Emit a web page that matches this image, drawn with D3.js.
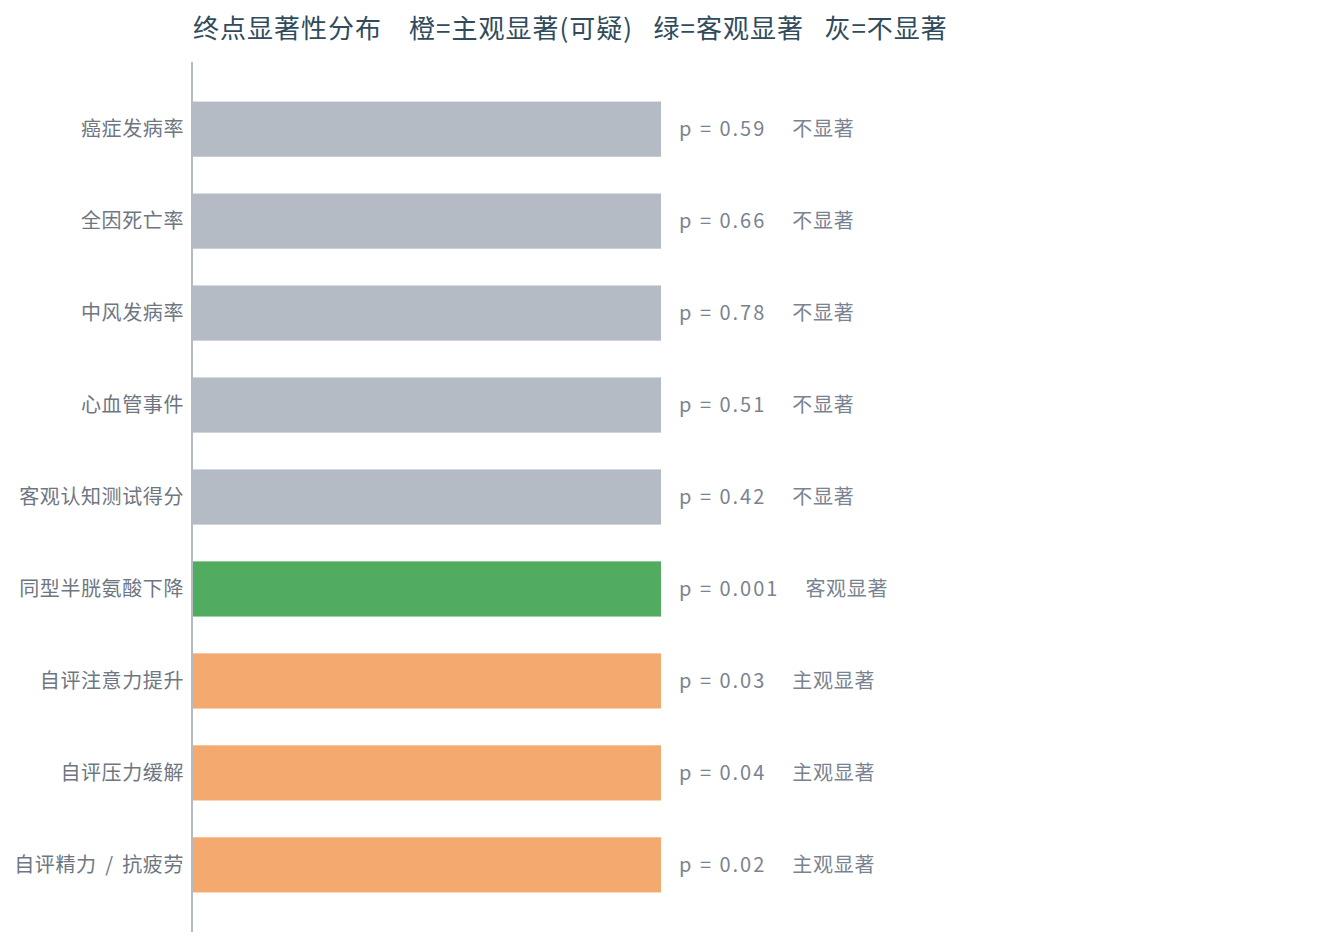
<!DOCTYPE html>
<html><head><meta charset="utf-8">
<script src="https://cdn.jsdelivr.net/npm/d3@7"></script>
<style>
html,body{margin:0;padding:0;background:#fff;}
text{font-family:"Noto Sans CJK SC","Noto Sans",sans-serif;}
</style></head>
<body><svg id="chart" width="1331" height="948"></svg>
<script>
const titleText = "终点显著性分布　橙=主观显著(可疑)   绿=客观显著   灰=不显著";
const categories = ["癌症发病率","全因死亡率","中风发病率","心血管事件","客观认知测试得分","同型半胱氨酸下降","自评注意力提升","自评压力缓解","自评精力 / 抗疲劳"];
const barValues = [1,1,1,1,1,1,1,1,1];
const pValues = ["0.59","0.66","0.78","0.51","0.42","0.001","0.03","0.04","0.02"];
const statusLabels = ["不显著","不显著","不显著","不显著","不显著","客观显著","主观显著","主观显著","主观显著"];
const statusColors = {"不显著":"#b4bbc4","客观显著":"#52ac5f","主观显著":"#f4aa6e"};

const svg = d3.select("#chart");
const axisX = 192, plotTop = 62, plotBottom = 932;
const x = d3.scaleLinear().domain([0,1]).range([axisX+1, 661]);
const y = d3.scaleBand().domain(categories).range([plotTop, plotBottom]).paddingInner(0.4).paddingOuter(0.43);

svg.append("text").attr("x",193).attr("y",38).attr("fill","#2f4b5c")
  .attr("font-size",26).attr("letter-spacing",1).style("white-space","pre").text(titleText);

svg.selectAll("rect.bar").data(categories).join("rect").attr("class","bar")
  .attr("x",x(0)).attr("y",d=>y(d)).attr("height",y.bandwidth())
  .attr("width",(d,i)=>x(barValues[i])-x(0))
  .attr("fill",(d,i)=>statusColors[statusLabels[i]]);

svg.append("line").attr("x1",axisX).attr("x2",axisX).attr("y1",plotTop).attr("y2",plotBottom)
  .attr("stroke","#b4bbc4").attr("stroke-width",2);

svg.selectAll("text.cat").data(categories).join("text").attr("class","cat")
  .attr("x",184).attr("y",d=>y(d)+y.bandwidth()/2).attr("dy","0.35em")
  .attr("text-anchor","end").attr("font-size",20).attr("letter-spacing",0.6)
  .attr("word-spacing",3.5)
  .style("white-space","pre").attr("fill","#6e7681").text(d=>d);

const vals = svg.selectAll("text.val").data(categories).join("text").attr("class","val")
  .attr("x",(d,i)=>x(barValues[i])+18).attr("y",d=>y(d)+y.bandwidth()/2).attr("dy","0.35em")
  .attr("font-size",20).attr("fill","#7a8390").style("white-space","pre");
vals.append("tspan").attr("letter-spacing",2).text((d,i)=>"p = "+pValues[i]);
vals.append("tspan").attr("dx",26).attr("letter-spacing",0.7).text((d,i)=>statusLabels[i]);
</script></body></html>
